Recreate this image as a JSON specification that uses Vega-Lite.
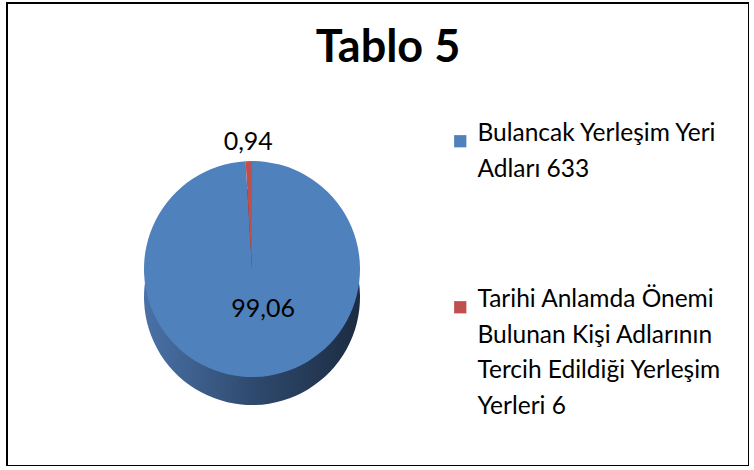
{
  "$schema": "https://vega.github.io/schema/vega-lite/v6.json",
  "width": 742,
  "height": 463,
  "padding": {"left": 7, "top": 3, "right": 0, "bottom": 0},
  "background": "white",
  "view": {"stroke": "#000000", "strokeWidth": 2, "fill": "white"},
  "config": {
    "view": {"stroke": "#000000", "strokeWidth": 2},
    "locale": {"number": {"decimal": ",", "thousands": ".", "grouping": [3], "currency": ["", " TL"]}},
    "font": "Lato",
    "style": {"guide-label": {"lineHeight": 35.5}}
  },
  "title": {"text": "Tablo 5", "fontSize": 45, "font": "Lato", "fontWeight": "bold", "color": "#000000", "anchor": "middle", "offset": -68, "dx": 10},
  "data": {"values": [
    {"name": "Bulancak Yerleşim Yeri Adları 633", "count": 633, "pct": 99.06, "ord": 1},
    {"name": "Tarihi Anlamda Önemi Bulunan Kişi Adlarının Tercih Edildiği Yerleşim Yerleri 6", "count": 6, "pct": 0.94, "ord": 2}
  ]},
  "layer": [
    {
      "mark": {"type": "arc", "outerRadius": 108, "x": 245, "y": 294},
      "encoding": {
        "theta": {"field": "count", "type": "quantitative", "stack": true},
        "order": {"field": "ord"},
        "xOffset": {"condition": {"test": "datum.ord == 2", "value": -1}, "value": 0},
        "yOffset": {"condition": {"test": "datum.ord == 2", "value": -14}, "value": 0},
        "fill": {"condition": {"test": "datum.ord == 2", "value": "#6e2523"}, "value": {"gradient": "linear", "x1": 0, "x2": 1, "y1": 0, "y2": 0, "stops": [{"offset": 0, "color": "#4a72a8"}, {"offset": 0.5, "color": "#2f4a6e"}, {"offset": 1, "color": "#1c2c42"}]}}
      }
    },
    {
      "mark": {"type": "arc", "outerRadius": 108, "x": 245, "y": 266},
      "encoding": {
        "theta": {"field": "count", "type": "quantitative", "stack": true},
        "order": {"field": "ord"},
        "xOffset": {"condition": {"test": "datum.ord == 2", "value": -1}, "value": 0},
        "yOffset": {"condition": {"test": "datum.ord == 2", "value": -14}, "value": 0},
        "color": {
          "field": "name", "type": "nominal",
          "scale": {"domain": ["Bulancak Yerleşim Yeri Adları 633", "Tarihi Anlamda Önemi Bulunan Kişi Adlarının Tercih Edildiği Yerleşim Yerleri 6"], "range": ["#4f81bd", "#c0504d"]},
          "legend": {
            "title": null, "orient": "none", "legendX": 441, "legendY": 126,
            "symbolType": "square", "symbolSize": 150, "symbolStrokeWidth": 0,
            "labelFont": "Lato", "labelFontSize": 24.5, "labelColor": "#000000", "labelLimit": 320,
            "labelOffset": 5, "rowPadding": 105, "labelBaseline": "alphabetic",
            "labelExpr": "datum.label == 'Bulancak Yerleşim Yeri Adları 633' ? ['Bulancak Yerleşim Yeri', 'Adları 633'] : ['Tarihi Anlamda Önemi', 'Bulunan Kişi Adlarının', 'Tercih Edildiği Yerleşim', 'Yerleri 6']"
          }
        }
      }
    },
    {
      "mark": {"type": "text", "x": 245, "y": 266, "fontSize": 25, "font": "Lato", "color": "#000000", "radius": 40},
      "encoding": {
        "theta": {"field": "count", "type": "quantitative", "stack": true},
        "order": {"field": "ord"},
        "xOffset": {"value": 10},
        "text": {"condition": {"test": "datum.ord == 1", "field": "pct", "type": "quantitative", "format": ".2f"}, "value": ""}
      }
    },
    {
      "mark": {"type": "text", "x": 245, "y": 266, "fontSize": 25, "font": "Lato", "color": "#000000", "radius": 127},
      "encoding": {
        "theta": {"field": "count", "type": "quantitative", "stack": true},
        "order": {"field": "ord"},
        "text": {"condition": {"test": "datum.ord == 2", "field": "pct", "type": "quantitative", "format": ".2f"}, "value": ""}
      }
    }
  ]
}
